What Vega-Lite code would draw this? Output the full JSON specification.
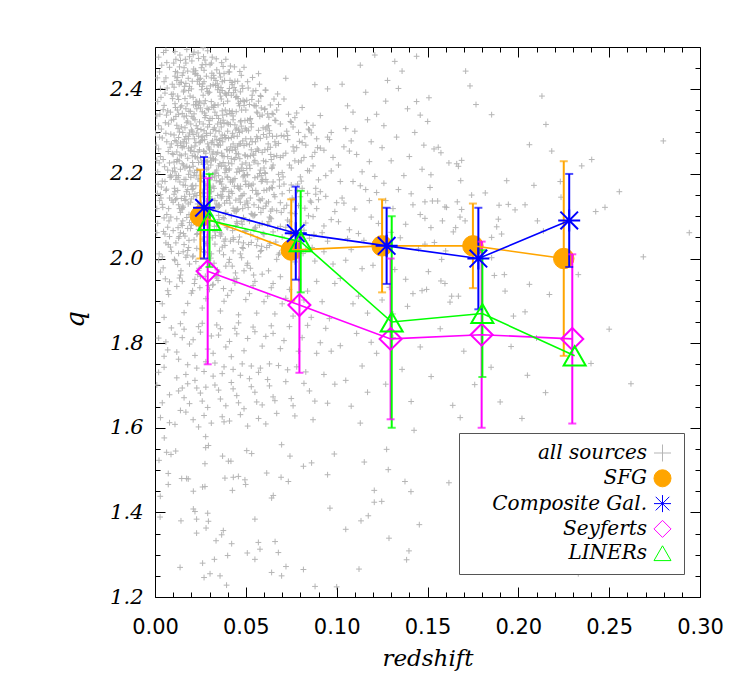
{
"$schema":"https://vega.github.io/schema/vega-lite/v6.json",
"width":545,"height":550,
"autosize":{"type":"none"},
"padding":{"left":155,"top":47,"right":47,"bottom":99},
"background":"white",
"config":{
 "view":{"stroke":"black","strokeWidth":1},
 "axis":{"grid":false,"domain":false,"tickColor":"black","tickWidth":1,"labelColor":"black","titleColor":"black","labelFlush":false,"labelOverlap":false,"labelBound":false},
 "legend":{"orient":"none","legendX":304,"legendY":386,"direction":"vertical","symbolOffset":183.5,"labelAlign":"right","labelOffset":-25.5,"labelFont":"DejaVu Serif","labelFontStyle":"italic","labelFontSize":20,"labelColor":"black","labelLimit":400,"symbolSize":290,"symbolStrokeWidth":1,"rowPadding":3.3,"padding":10,"strokeColor":"#555555","fillColor":"white"}
},
"datasets":{
"bins":[
{"type":"SFG","z":0.025,"q":2.10,"lo":2.00,"hi":2.21},
{"type":"SFG","z":0.075,"q":2.02,"lo":1.90,"hi":2.14},
{"type":"SFG","z":0.125,"q":2.03,"lo":1.92,"hi":2.14},
{"type":"SFG","z":0.175,"q":2.03,"lo":1.93,"hi":2.13},
{"type":"SFG","z":0.225,"q":2.00,"lo":1.77,"hi":2.23},
{"type":"Composite Gal.","z":0.027,"q":2.12,"lo":2.00,"hi":2.24},
{"type":"Composite Gal.","z":0.0775,"q":2.06,"lo":1.95,"hi":2.17},
{"type":"Composite Gal.","z":0.1275,"q":2.03,"lo":1.94,"hi":2.12},
{"type":"Composite Gal.","z":0.178,"q":2.00,"lo":1.88,"hi":2.12},
{"type":"Composite Gal.","z":0.228,"q":2.09,"lo":1.98,"hi":2.20},
{"type":"Seyferts","z":0.029,"q":1.97,"lo":1.75,"hi":2.19},
{"type":"Seyferts","z":0.0795,"q":1.89,"lo":1.73,"hi":2.05},
{"type":"Seyferts","z":0.1297,"q":1.81,"lo":1.62,"hi":2.00},
{"type":"Seyferts","z":0.1798,"q":1.82,"lo":1.60,"hi":2.04},
{"type":"Seyferts","z":0.2297,"q":1.81,"lo":1.61,"hi":2.01},
{"type":"LINERs","z":0.030,"q":2.09,"lo":1.98,"hi":2.20},
{"type":"LINERs","z":0.0802,"q":2.04,"lo":1.92,"hi":2.16},
{"type":"LINERs","z":0.1303,"q":1.85,"lo":1.60,"hi":2.10},
{"type":"LINERs","z":0.1802,"q":1.87,"lo":1.72,"hi":2.02},
{"type":"LINERs","z":0.231,"q":1.77,"lo":null,"hi":null}
],
"all":[
{"z":0.002,"q":2.314},{"z":0.004,"q":2.183},{"z":0.006,"q":2.427},{"z":0.008,"q":2.052},{"z":0.003,"q":1.968},{"z":0.009,"q":2.271},{"z":0.001,"q":2.118},{"z":0.005,"q":2.362},{"z":0.007,"q":2.209},{"z":0.004,"q":1.893},
{"z":0.008,"q":2.143},{"z":0.002,"q":2.476},{"z":0.006,"q":2.037},{"z":0.009,"q":2.388},{"z":0.003,"q":2.241},{"z":0.007,"q":1.924},{"z":0.005,"q":2.096},{"z":0.001,"q":2.337},{"z":0.008,"q":2.452},{"z":0.004,"q":2.285},
{"z":0.006,"q":2.161},{"z":0.002,"q":1.996},{"z":0.009,"q":2.017},{"z":0.007,"q":2.349},{"z":0.003,"q":2.402},{"z":0.005,"q":1.861},{"z":0.008,"q":2.226},{"z":0.006,"q":2.296},{"z":0.001,"q":2.061},{"z":0.004,"q":2.128},
{"z":0.009,"q":2.193},{"z":0.002,"q":2.259},{"z":0.007,"q":2.074},{"z":0.005,"q":2.418},{"z":0.003,"q":2.151},{"z":0.008,"q":1.945},{"z":0.006,"q":2.492},{"z":0.001,"q":2.232},{"z":0.009,"q":2.327},{"z":0.004,"q":2.004},
{"z":0.011,"q":2.205},{"z":0.013,"q":2.341},{"z":0.015,"q":2.078},{"z":0.017,"q":2.462},{"z":0.019,"q":2.152},{"z":0.012,"q":1.934},{"z":0.014,"q":2.273},{"z":0.016,"q":2.398},{"z":0.018,"q":2.019},{"z":0.010,"q":2.246},
{"z":0.013,"q":2.127},{"z":0.015,"q":2.433},{"z":0.017,"q":2.288},{"z":0.019,"q":1.987},{"z":0.011,"q":2.366},{"z":0.012,"q":2.094},{"z":0.014,"q":2.211},{"z":0.016,"q":1.872},{"z":0.018,"q":2.325},{"z":0.020,"q":2.171},
{"z":0.011,"q":2.489},{"z":0.013,"q":2.048},{"z":0.015,"q":2.262},{"z":0.017,"q":2.139},{"z":0.019,"q":2.407},{"z":0.012,"q":2.315},{"z":0.014,"q":1.961},{"z":0.016,"q":2.187},{"z":0.018,"q":2.443},{"z":0.010,"q":2.066},
{"z":0.013,"q":2.376},{"z":0.015,"q":2.224},{"z":0.017,"q":2.003},{"z":0.019,"q":2.297},{"z":0.011,"q":2.158},{"z":0.012,"q":2.421},{"z":0.014,"q":2.109},{"z":0.016,"q":2.335},{"z":0.018,"q":2.237},{"z":0.020,"q":1.918},
{"z":0.011,"q":2.279},{"z":0.013,"q":2.196},{"z":0.015,"q":1.946},{"z":0.017,"q":2.354},{"z":0.019,"q":2.085},{"z":0.012,"q":2.252},{"z":0.014,"q":2.468},{"z":0.016,"q":2.033},{"z":0.018,"q":2.163},{"z":0.010,"q":2.389},
{"z":0.013,"q":2.286},{"z":0.015,"q":2.117},{"z":0.017,"q":2.414},{"z":0.019,"q":2.215},{"z":0.011,"q":1.995},{"z":0.012,"q":2.142},{"z":0.014,"q":2.358},{"z":0.016,"q":2.265},{"z":0.018,"q":2.071},{"z":0.020,"q":2.304},
{"z":0.011,"q":2.431},{"z":0.013,"q":2.012},{"z":0.015,"q":2.343},{"z":0.017,"q":2.187},{"z":0.019,"q":2.477},{"z":0.012,"q":2.229},{"z":0.014,"q":2.061},{"z":0.016,"q":2.451},{"z":0.018,"q":1.894},{"z":0.010,"q":2.133},
{"z":0.021,"q":2.218},{"z":0.023,"q":2.354},{"z":0.025,"q":2.091},{"z":0.027,"q":2.445},{"z":0.029,"q":2.176},{"z":0.022,"q":1.951},{"z":0.024,"q":2.289},{"z":0.026,"q":2.407},{"z":0.028,"q":2.035},{"z":0.020,"q":2.263},
{"z":0.023,"q":2.149},{"z":0.025,"q":2.426},{"z":0.027,"q":2.302},{"z":0.029,"q":1.997},{"z":0.021,"q":2.381},{"z":0.022,"q":2.108},{"z":0.024,"q":2.227},{"z":0.026,"q":1.883},{"z":0.028,"q":2.338},{"z":0.030,"q":2.186},
{"z":0.021,"q":2.482},{"z":0.023,"q":2.057},{"z":0.025,"q":2.276},{"z":0.027,"q":2.155},{"z":0.029,"q":2.395},{"z":0.022,"q":2.328},{"z":0.024,"q":1.972},{"z":0.026,"q":2.197},{"z":0.028,"q":2.459},{"z":0.020,"q":2.079},
{"z":0.023,"q":2.371},{"z":0.025,"q":2.238},{"z":0.027,"q":2.016},{"z":0.029,"q":2.311},{"z":0.021,"q":2.165},{"z":0.022,"q":2.436},{"z":0.024,"q":2.121},{"z":0.026,"q":2.347},{"z":0.028,"q":2.249},{"z":0.030,"q":1.927},
{"z":0.021,"q":2.293},{"z":0.023,"q":2.209},{"z":0.025,"q":1.958},{"z":0.027,"q":2.366},{"z":0.029,"q":2.098},{"z":0.022,"q":2.266},{"z":0.024,"q":2.473},{"z":0.026,"q":2.046},{"z":0.028,"q":2.172},{"z":0.020,"q":2.401},
{"z":0.023,"q":2.297},{"z":0.025,"q":2.131},{"z":0.027,"q":2.418},{"z":0.029,"q":2.228},{"z":0.021,"q":2.006},{"z":0.022,"q":2.153},{"z":0.024,"q":2.362},{"z":0.026,"q":2.279},{"z":0.028,"q":2.084},{"z":0.030,"q":2.317},
{"z":0.021,"q":2.441},{"z":0.023,"q":2.024},{"z":0.025,"q":2.356},{"z":0.027,"q":2.194},{"z":0.029,"q":2.491},{"z":0.022,"q":2.241},{"z":0.024,"q":2.069},{"z":0.026,"q":2.458},{"z":0.028,"q":1.905},{"z":0.020,"q":2.141},
{"z":0.025,"q":2.183},{"z":0.027,"q":2.253},{"z":0.023,"q":2.115},{"z":0.029,"q":2.271},{"z":0.021,"q":2.332},
{"z":0.031,"q":2.231},{"z":0.033,"q":2.346},{"z":0.035,"q":2.102},{"z":0.037,"q":2.418},{"z":0.039,"q":2.168},{"z":0.032,"q":1.939},{"z":0.034,"q":2.281},{"z":0.036,"q":2.384},{"z":0.038,"q":2.041},{"z":0.030,"q":2.257},
{"z":0.033,"q":2.137},{"z":0.035,"q":2.405},{"z":0.037,"q":2.292},{"z":0.039,"q":1.982},{"z":0.031,"q":2.371},{"z":0.032,"q":2.117},{"z":0.034,"q":2.209},{"z":0.036,"q":1.876},{"z":0.038,"q":2.319},{"z":0.040,"q":2.192},
{"z":0.031,"q":2.462},{"z":0.033,"q":2.063},{"z":0.035,"q":2.268},{"z":0.037,"q":2.147},{"z":0.039,"q":2.389},{"z":0.032,"q":2.305},{"z":0.034,"q":1.954},{"z":0.036,"q":2.182},{"z":0.038,"q":2.437},{"z":0.030,"q":2.088},
{"z":0.033,"q":2.363},{"z":0.035,"q":2.219},{"z":0.037,"q":2.027},{"z":0.039,"q":2.286},{"z":0.031,"q":2.158},{"z":0.032,"q":2.411},{"z":0.034,"q":2.129},{"z":0.036,"q":2.322},{"z":0.038,"q":2.241},{"z":0.040,"q":1.913},
{"z":0.031,"q":2.274},{"z":0.033,"q":2.201},{"z":0.035,"q":1.968},{"z":0.037,"q":2.349},{"z":0.039,"q":2.109},{"z":0.032,"q":2.252},{"z":0.034,"q":2.446},{"z":0.036,"q":2.053},{"z":0.038,"q":2.164},{"z":0.030,"q":2.393},
{"z":0.033,"q":2.289},{"z":0.035,"q":2.126},{"z":0.037,"q":2.397},{"z":0.039,"q":2.212},{"z":0.031,"q":2.011},{"z":0.032,"q":2.171},{"z":0.034,"q":2.338},{"z":0.036,"q":2.268},{"z":0.038,"q":2.094},{"z":0.040,"q":2.301},
{"z":0.031,"q":2.427},{"z":0.033,"q":2.034},{"z":0.035,"q":2.331},{"z":0.037,"q":2.188},{"z":0.039,"q":2.471},{"z":0.032,"q":2.235},{"z":0.034,"q":2.077},{"z":0.036,"q":2.429},{"z":0.038,"q":1.899},{"z":0.030,"q":2.146},
{"z":0.035,"q":2.196},{"z":0.037,"q":2.243},
{"z":0.041,"q":2.212},{"z":0.043,"q":2.328},{"z":0.045,"q":2.087},{"z":0.047,"q":2.394},{"z":0.049,"q":2.153},{"z":0.042,"q":1.924},{"z":0.044,"q":2.262},{"z":0.046,"q":2.367},{"z":0.048,"q":2.026},{"z":0.040,"q":2.241},
{"z":0.043,"q":2.119},{"z":0.045,"q":2.383},{"z":0.047,"q":2.271},{"z":0.049,"q":1.971},{"z":0.041,"q":2.349},{"z":0.042,"q":2.101},{"z":0.044,"q":2.189},{"z":0.046,"q":1.867},{"z":0.048,"q":2.301},{"z":0.050,"q":2.175},
{"z":0.041,"q":2.441},{"z":0.043,"q":2.049},{"z":0.045,"q":2.248},{"z":0.047,"q":2.133},{"z":0.049,"q":2.362},{"z":0.042,"q":2.286},{"z":0.044,"q":1.942},{"z":0.046,"q":2.166},{"z":0.048,"q":2.408},{"z":0.040,"q":2.073},
{"z":0.043,"q":2.337},{"z":0.045,"q":2.204},{"z":0.047,"q":2.011},{"z":0.049,"q":2.267},{"z":0.041,"q":2.143},{"z":0.042,"q":2.386},{"z":0.044,"q":2.112},{"z":0.046,"q":2.304},{"z":0.048,"q":2.223},{"z":0.050,"q":1.903},
{"z":0.041,"q":2.255},{"z":0.043,"q":2.186},{"z":0.045,"q":1.953},{"z":0.047,"q":2.323},{"z":0.049,"q":2.092},{"z":0.042,"q":2.236},{"z":0.044,"q":2.419},{"z":0.046,"q":2.039},{"z":0.048,"q":2.149},{"z":0.040,"q":2.372},
{"z":0.043,"q":2.271},{"z":0.045,"q":2.114},{"z":0.047,"q":2.371},{"z":0.049,"q":2.196},{"z":0.041,"q":1.998},{"z":0.042,"q":2.159},{"z":0.044,"q":2.316},{"z":0.046,"q":2.247},{"z":0.048,"q":2.081},{"z":0.050,"q":2.283},
{"z":0.041,"q":2.402},{"z":0.043,"q":2.018},{"z":0.045,"q":2.308},{"z":0.047,"q":2.171},{"z":0.049,"q":2.452},
{"z":0.051,"q":2.198},{"z":0.053,"q":2.311},{"z":0.055,"q":2.072},{"z":0.057,"q":2.372},{"z":0.059,"q":2.141},{"z":0.052,"q":1.917},{"z":0.054,"q":2.247},{"z":0.056,"q":2.346},{"z":0.058,"q":2.017},{"z":0.050,"q":2.226},
{"z":0.053,"q":2.106},{"z":0.055,"q":2.361},{"z":0.057,"q":2.256},{"z":0.059,"q":1.963},{"z":0.051,"q":2.327},{"z":0.052,"q":2.088},{"z":0.054,"q":2.176},{"z":0.056,"q":1.871},{"z":0.058,"q":2.284},{"z":0.060,"q":2.161},
{"z":0.051,"q":2.418},{"z":0.053,"q":2.038},{"z":0.055,"q":2.232},{"z":0.057,"q":2.121},{"z":0.059,"q":2.339},{"z":0.052,"q":2.269},{"z":0.054,"q":1.936},{"z":0.056,"q":2.152},{"z":0.058,"q":2.385},{"z":0.050,"q":2.064},
{"z":0.053,"q":2.319},{"z":0.055,"q":2.191},{"z":0.057,"q":2.004},{"z":0.059,"q":2.251},{"z":0.051,"q":2.131},{"z":0.052,"q":2.364},{"z":0.054,"q":2.101},{"z":0.056,"q":2.288},{"z":0.058,"q":2.209},{"z":0.060,"q":1.898},
{"z":0.051,"q":2.241},{"z":0.053,"q":2.173},{"z":0.055,"q":1.946},{"z":0.057,"q":2.303},{"z":0.059,"q":2.083},{"z":0.052,"q":2.221},{"z":0.054,"q":2.396},{"z":0.056,"q":2.031},{"z":0.058,"q":2.137},{"z":0.050,"q":2.351},
{"z":0.053,"q":2.257},{"z":0.055,"q":2.104},{"z":0.057,"q":2.437},{"z":0.059,"q":2.183},{"z":0.051,"q":1.989},
{"z":0.061,"q":2.187},{"z":0.063,"q":2.296},{"z":0.065,"q":2.063},{"z":0.067,"q":2.351},{"z":0.069,"q":2.132},{"z":0.062,"q":1.911},{"z":0.064,"q":2.234},{"z":0.066,"q":2.327},{"z":0.068,"q":2.009},{"z":0.060,"q":2.214},
{"z":0.063,"q":2.098},{"z":0.065,"q":2.341},{"z":0.067,"q":2.243},{"z":0.069,"q":1.957},{"z":0.061,"q":2.306},{"z":0.062,"q":2.081},{"z":0.064,"q":2.168},{"z":0.066,"q":1.869},{"z":0.068,"q":2.272},{"z":0.070,"q":2.153},
{"z":0.061,"q":2.398},{"z":0.063,"q":2.031},{"z":0.065,"q":2.221},{"z":0.067,"q":2.113},{"z":0.069,"q":2.318},{"z":0.062,"q":2.258},{"z":0.064,"q":1.931},{"z":0.066,"q":2.146},{"z":0.068,"q":2.364},{"z":0.060,"q":2.057},
{"z":0.063,"q":2.302},{"z":0.065,"q":2.181},{"z":0.067,"q":1.998},{"z":0.069,"q":2.239},{"z":0.061,"q":2.124},{"z":0.062,"q":2.342},{"z":0.064,"q":2.094},{"z":0.066,"q":2.276},{"z":0.068,"q":2.199},{"z":0.070,"q":1.893},
{"z":0.061,"q":2.229},{"z":0.063,"q":2.165},{"z":0.065,"q":1.941},{"z":0.067,"q":2.289},{"z":0.069,"q":2.076},
{"z":0.071,"q":2.176},{"z":0.073,"q":2.281},{"z":0.075,"q":2.056},{"z":0.077,"q":2.333},{"z":0.079,"q":2.125},{"z":0.072,"q":1.906},{"z":0.074,"q":2.221},{"z":0.076,"q":2.311},{"z":0.078,"q":2.001},{"z":0.070,"q":2.203},
{"z":0.073,"q":2.091},{"z":0.075,"q":2.322},{"z":0.077,"q":2.231},{"z":0.079,"q":1.951},{"z":0.071,"q":2.289},{"z":0.072,"q":2.074},{"z":0.074,"q":2.161},{"z":0.076,"q":1.864},{"z":0.078,"q":2.262},{"z":0.080,"q":2.146},
{"z":0.071,"q":2.377},{"z":0.073,"q":2.026},{"z":0.075,"q":2.214},{"z":0.077,"q":2.106},{"z":0.079,"q":2.298},{"z":0.072,"q":2.249},{"z":0.074,"q":1.927},{"z":0.076,"q":2.139},{"z":0.078,"q":2.344},{"z":0.070,"q":2.051},
{"z":0.073,"q":2.291},{"z":0.075,"q":2.174},{"z":0.077,"q":1.992},{"z":0.079,"q":2.228},{"z":0.071,"q":2.118},{"z":0.072,"q":2.426},{"z":0.074,"q":2.087},{"z":0.076,"q":2.264},
{"z":0.081,"q":2.166},{"z":0.083,"q":2.268},{"z":0.085,"q":2.048},{"z":0.087,"q":2.315},{"z":0.089,"q":2.118},{"z":0.082,"q":1.902},{"z":0.084,"q":2.208},{"z":0.086,"q":2.297},{"z":0.088,"q":1.994},{"z":0.080,"q":2.193},
{"z":0.083,"q":2.084},{"z":0.085,"q":2.304},{"z":0.087,"q":2.219},{"z":0.089,"q":1.946},{"z":0.081,"q":2.274},{"z":0.082,"q":2.067},{"z":0.084,"q":2.154},{"z":0.086,"q":1.861},{"z":0.088,"q":2.251},{"z":0.090,"q":2.139},
{"z":0.081,"q":2.357},{"z":0.083,"q":2.021},{"z":0.085,"q":2.207},{"z":0.087,"q":2.099},{"z":0.089,"q":2.283},{"z":0.082,"q":2.239},{"z":0.084,"q":1.923},{"z":0.086,"q":2.133},{"z":0.088,"q":2.411},{"z":0.080,"q":2.045},
{"z":0.091,"q":2.158},{"z":0.093,"q":2.256},{"z":0.095,"q":2.041},{"z":0.097,"q":2.298},{"z":0.099,"q":2.111},{"z":0.092,"q":1.898},{"z":0.094,"q":2.196},{"z":0.096,"q":2.281},{"z":0.098,"q":1.987},{"z":0.090,"q":2.186},
{"z":0.093,"q":2.077},{"z":0.095,"q":2.287},{"z":0.097,"q":2.207},{"z":0.099,"q":1.941},{"z":0.091,"q":2.261},{"z":0.092,"q":2.061},{"z":0.094,"q":2.147},{"z":0.096,"q":1.858},{"z":0.098,"q":2.239},{"z":0.100,"q":2.132},
{"z":0.091,"q":2.338},{"z":0.093,"q":2.016},{"z":0.095,"q":2.401},{"z":0.097,"q":2.092},
{"z":0.101,"q":2.221},{"z":0.103,"q":2.143},{"z":0.105,"q":2.307},{"z":0.107,"q":2.068},{"z":0.109,"q":2.182},{"z":0.102,"q":1.953},{"z":0.104,"q":2.264},{"z":0.106,"q":2.361},{"z":0.108,"q":2.021},{"z":0.110,"q":2.117},
{"z":0.111,"q":2.246},{"z":0.113,"q":2.172},{"z":0.115,"q":2.043},{"z":0.117,"q":2.328},{"z":0.119,"q":2.098},{"z":0.112,"q":1.911},{"z":0.114,"q":2.205},{"z":0.116,"q":2.393},{"z":0.118,"q":2.137},{"z":0.120,"q":1.984},
{"z":0.101,"q":2.087},{"z":0.103,"q":2.412},{"z":0.105,"q":1.996},{"z":0.107,"q":2.254},{"z":0.109,"q":2.346},{"z":0.104,"q":2.131},{"z":0.108,"q":2.278},{"z":0.112,"q":2.059},{"z":0.116,"q":2.163},{"z":0.119,"q":2.276},
{"z":0.121,"q":2.194},{"z":0.123,"q":2.083},{"z":0.125,"q":2.262},{"z":0.127,"q":2.137},{"z":0.129,"q":1.932},{"z":0.122,"q":2.341},{"z":0.124,"q":2.018},{"z":0.126,"q":2.178},{"z":0.128,"q":2.421},{"z":0.130,"q":2.231},
{"z":0.131,"q":2.118},{"z":0.133,"q":2.287},{"z":0.135,"q":2.049},{"z":0.137,"q":2.196},{"z":0.139,"q":2.354},{"z":0.132,"q":1.974},{"z":0.134,"q":2.163},{"z":0.136,"q":2.443},{"z":0.138,"q":2.081},{"z":0.140,"q":2.241},
{"z":0.141,"q":2.153},{"z":0.143,"q":2.298},{"z":0.145,"q":2.023},{"z":0.147,"q":2.211},{"z":0.142,"q":1.917},{"z":0.144,"q":2.371},{"z":0.146,"q":2.104},{"z":0.148,"q":2.268},{"z":0.102,"q":2.182},{"z":0.106,"q":2.047},
{"z":0.110,"q":2.301},{"z":0.114,"q":1.976},{"z":0.118,"q":2.229},{"z":0.122,"q":2.156},{"z":0.126,"q":2.314},{"z":0.130,"q":2.062},{"z":0.134,"q":2.402},{"z":0.138,"q":1.951},{"z":0.142,"q":2.127},{"z":0.146,"q":2.339},
{"z":0.113,"q":2.457},{"z":0.121,"q":2.481},{"z":0.127,"q":2.372},{"z":0.132,"q":2.466},{"z":0.144,"q":2.478},{"z":0.109,"q":1.893},{"z":0.117,"q":1.871},{"z":0.125,"q":1.902},{"z":0.131,"q":1.869},{"z":0.139,"q":1.887},{"z":0.147,"q":1.924},
{"z":0.171,"q":2.443},{"z":0.1734,"q":2.408},{"z":0.1508,"q":2.380},{"z":0.1767,"q":2.364},{"z":0.1853,"q":2.340},{"z":0.1501,"q":2.324},{"z":0.213,"q":2.384},{"z":0.2152,"q":2.317},{"z":0.2061,"q":2.269},{"z":0.2184,"q":2.254},
{"z":0.2798,"q":2.278},{"z":0.1536,"q":2.259},{"z":0.1559,"q":2.263},{"z":0.1574,"q":2.250},{"z":0.1618,"q":2.226},{"z":0.1661,"q":2.224},{"z":0.167,"q":2.218},{"z":0.1688,"q":2.232},{"z":0.1519,"q":2.198},{"z":0.1514,"q":2.168},
{"z":0.1683,"q":2.184},{"z":0.1818,"q":2.155},{"z":0.1936,"q":2.184},{"z":0.2086,"q":2.173},{"z":0.2231,"q":2.182},{"z":0.2235,"q":2.145},{"z":0.2349,"q":2.219},{"z":0.2404,"q":2.234},{"z":0.2556,"q":2.158},{"z":0.2477,"q":2.121},
{"z":0.2426,"q":2.111},{"z":0.1486,"q":2.134},{"z":0.1527,"q":2.136},{"z":0.1556,"q":2.136},{"z":0.1596,"q":2.122},{"z":0.1664,"q":2.134},{"z":0.1605,"q":2.121},{"z":0.1688,"q":2.116},{"z":0.1743,"q":2.150},{"z":0.1894,"q":2.126},
{"z":0.1945,"q":2.128},{"z":0.1982,"q":2.115},{"z":0.2037,"q":2.127},{"z":0.1486,"q":2.095},{"z":0.1582,"q":2.089},{"z":0.1519,"q":2.073},{"z":0.1655,"q":2.073},{"z":0.1642,"q":2.063},{"z":0.1679,"q":2.098},{"z":0.1707,"q":2.089},
{"z":0.1881,"q":2.075},{"z":0.189,"q":2.093},{"z":0.2105,"q":2.089},{"z":0.2138,"q":2.065},{"z":0.1853,"q":2.050},{"z":0.1908,"q":2.058},{"z":0.1486,"q":2.034},{"z":0.1538,"q":2.038},{"z":0.160,"q":2.018},{"z":0.1578,"q":1.998},
{"z":0.1505,"q":1.969},{"z":0.1574,"q":1.947},{"z":0.1596,"q":1.941},{"z":0.1853,"q":2.002},{"z":0.1868,"q":1.960},{"z":0.1923,"q":1.962},{"z":0.1927,"q":1.923},{"z":0.2061,"q":1.939},{"z":0.2171,"q":1.915},{"z":0.233,"q":1.962},
{"z":0.2688,"q":2.004},{"z":0.2941,"q":2.061},{"z":0.1633,"q":1.911},{"z":0.167,"q":1.911},{"z":0.1624,"q":1.897},{"z":0.1973,"q":1.864},{"z":0.2037,"q":1.874},{"z":0.1495,"q":1.927},
{"z":0.002,"q":1.812},{"z":0.005,"q":1.743},{"z":0.008,"q":1.678},{"z":0.003,"q":1.624},{"z":0.007,"q":1.784},{"z":0.001,"q":1.701},{"z":0.009,"q":1.836},{"z":0.004,"q":1.659},{"z":0.006,"q":1.803},{"z":0.002,"q":1.731},{"z":0.008,"q":1.612},{"z":0.005,"q":1.769},
{"z":0.011,"q":1.821},{"z":0.013,"q":1.762},{"z":0.015,"q":1.694},{"z":0.017,"q":1.637},{"z":0.019,"q":1.798},{"z":0.012,"q":1.718},{"z":0.014,"q":1.846},{"z":0.016,"q":1.671},{"z":0.018,"q":1.749},{"z":0.011,"q":1.608},{"z":0.013,"q":1.687},{"z":0.015,"q":1.813},{"z":0.017,"q":1.726},{"z":0.019,"q":1.657},{"z":0.012,"q":1.779},{"z":0.016,"q":1.833},{"z":0.018,"q":1.704},{"z":0.014,"q":1.641},
{"z":0.021,"q":1.808},{"z":0.023,"q":1.741},{"z":0.025,"q":1.682},{"z":0.027,"q":1.629},{"z":0.029,"q":1.786},{"z":0.022,"q":1.712},{"z":0.024,"q":1.839},{"z":0.026,"q":1.663},{"z":0.028,"q":1.756},{"z":0.021,"q":1.619},{"z":0.023,"q":1.694},{"z":0.025,"q":1.826},{"z":0.027,"q":1.733},{"z":0.029,"q":1.648},{"z":0.022,"q":1.771},{"z":0.026,"q":1.847},{"z":0.028,"q":1.696},{"z":0.024,"q":1.602},
{"z":0.031,"q":1.817},{"z":0.033,"q":1.753},{"z":0.035,"q":1.689},{"z":0.037,"q":1.626},{"z":0.039,"q":1.791},{"z":0.032,"q":1.722},{"z":0.034,"q":1.843},{"z":0.036,"q":1.668},{"z":0.038,"q":1.744},{"z":0.031,"q":1.611},{"z":0.033,"q":1.701},{"z":0.035,"q":1.819},{"z":0.037,"q":1.728},{"z":0.039,"q":1.652},{"z":0.032,"q":1.776},{"z":0.036,"q":1.834},{"z":0.038,"q":1.614},
{"z":0.041,"q":1.804},{"z":0.043,"q":1.738},{"z":0.045,"q":1.676},{"z":0.047,"q":1.631},{"z":0.049,"q":1.782},{"z":0.042,"q":1.707},{"z":0.044,"q":1.835},{"z":0.046,"q":1.659},{"z":0.048,"q":1.751},{"z":0.041,"q":1.616},{"z":0.043,"q":1.692},{"z":0.045,"q":1.822},{"z":0.047,"q":1.724},{"z":0.049,"q":1.645},{"z":0.042,"q":1.768},{"z":0.046,"q":1.848},
{"z":0.051,"q":1.811},{"z":0.053,"q":1.746},{"z":0.055,"q":1.684},{"z":0.057,"q":1.622},{"z":0.059,"q":1.793},{"z":0.052,"q":1.716},{"z":0.054,"q":1.838},{"z":0.056,"q":1.661},{"z":0.058,"q":1.741},{"z":0.051,"q":1.604},{"z":0.053,"q":1.697},{"z":0.055,"q":1.827},{"z":0.057,"q":1.731},{"z":0.059,"q":1.654},
{"z":0.061,"q":1.816},{"z":0.063,"q":1.751},{"z":0.065,"q":1.673},{"z":0.067,"q":1.634},{"z":0.069,"q":1.787},{"z":0.062,"q":1.714},{"z":0.064,"q":1.841},{"z":0.066,"q":1.664},{"z":0.068,"q":1.747},{"z":0.061,"q":1.609},{"z":0.063,"q":1.699},{"z":0.065,"q":1.823},
{"z":0.071,"q":1.806},{"z":0.073,"q":1.737},{"z":0.075,"q":1.669},{"z":0.077,"q":1.628},{"z":0.079,"q":1.781},{"z":0.072,"q":1.709},{"z":0.074,"q":1.839},{"z":0.076,"q":1.652},{"z":0.078,"q":1.744},
{"z":0.081,"q":1.813},{"z":0.083,"q":1.732},{"z":0.085,"q":1.687},{"z":0.087,"q":1.619},{"z":0.089,"q":1.776},{"z":0.082,"q":1.705},{"z":0.084,"q":1.842},{"z":0.088,"q":1.663},
{"z":0.091,"q":1.801},{"z":0.093,"q":1.726},{"z":0.095,"q":1.658},{"z":0.097,"q":1.781},{"z":0.099,"q":1.703},{"z":0.094,"q":1.835},
{"z":0.102,"q":1.794},{"z":0.105,"q":1.712},{"z":0.108,"q":1.651},{"z":0.111,"q":1.823},{"z":0.114,"q":1.746},{"z":0.117,"q":1.684},{"z":0.119,"q":1.802},{"z":0.113,"q":1.611},
{"z":0.122,"q":1.776},{"z":0.127,"q":1.703},{"z":0.131,"q":1.813},{"z":0.136,"q":1.738},{"z":0.141,"q":1.662},{"z":0.146,"q":1.791},{"z":0.152,"q":1.721},{"z":0.157,"q":1.834},
{"z":0.0051,"q":1.576},{"z":0.0064,"q":1.542},{"z":0.0088,"q":1.537},{"z":0.0114,"q":1.545},{"z":0.0022,"q":1.523},{"z":0.0073,"q":1.492},{"z":0.0073,"q":1.466},{"z":0.0147,"q":1.480},{"z":0.0174,"q":1.480},{"z":0.0183,"q":1.479},
{"z":0.0211,"q":1.450},{"z":0.0262,"q":1.460},{"z":0.0275,"q":1.461},{"z":0.0275,"q":1.515},{"z":0.0279,"q":1.553},{"z":0.0294,"q":1.558},{"z":0.0279,"q":1.579},{"z":0.0372,"q":1.533},{"z":0.0404,"q":1.521},{"z":0.0418,"q":1.521},
{"z":0.0385,"q":1.481},{"z":0.0431,"q":1.483},{"z":0.0459,"q":1.485},{"z":0.0495,"q":1.477},{"z":0.0499,"q":1.466},{"z":0.0426,"q":1.452},{"z":0.0505,"q":1.546},{"z":0.0532,"q":1.539},{"z":0.0615,"q":1.493},{"z":0.0642,"q":1.434},
{"z":0.0651,"q":1.440},{"z":0.0694,"q":1.483},{"z":0.0734,"q":1.473},{"z":0.0743,"q":1.533},{"z":0.0697,"q":1.560},{"z":0.0817,"q":1.509},{"z":0.0862,"q":1.517},{"z":0.095,"q":1.489},{"z":0.0963,"q":1.410},{"z":0.0987,"q":1.538},
{"z":0.1152,"q":1.519},{"z":0.1207,"q":1.452},{"z":0.1248,"q":1.426},{"z":0.1207,"q":1.424},{"z":0.1174,"q":1.392},{"z":0.1134,"q":1.380},{"z":0.105,"q":1.360},{"z":0.1284,"q":1.501},{"z":0.1275,"q":1.549},{"z":0.1376,"q":1.473},
{"z":0.1409,"q":1.449},{"z":0.1455,"q":1.371},{"z":0.1398,"q":1.309},{"z":0.1385,"q":1.288},{"z":0.1288,"q":1.339},{"z":0.1123,"q":1.266},{"z":0.100,"q":1.224},{"z":0.0881,"q":1.225},{"z":0.0817,"q":1.265},{"z":0.0721,"q":1.272},
{"z":0.0697,"q":1.250},{"z":0.0642,"q":1.258},{"z":0.055,"q":1.289},{"z":0.0578,"q":1.313},{"z":0.0569,"q":1.329},{"z":0.0661,"q":1.331},{"z":0.0679,"q":1.305},{"z":0.055,"q":1.384},{"z":0.0508,"q":1.304},{"z":0.0422,"q":1.326},
{"z":0.040,"q":1.298},{"z":0.0367,"q":1.347},{"z":0.0376,"q":1.357},{"z":0.0336,"q":1.333},{"z":0.0358,"q":1.250},{"z":0.0303,"q":1.255},{"z":0.027,"q":1.246},{"z":0.0327,"q":1.289},{"z":0.0394,"q":1.228},{"z":0.0294,"q":1.379},
{"z":0.029,"q":1.398},{"z":0.0281,"q":1.363},{"z":0.0229,"q":1.351},{"z":0.0211,"q":1.408},{"z":0.022,"q":1.402},{"z":0.0229,"q":1.384},{"z":0.0143,"q":1.380},{"z":0.0028,"q":1.389},{"z":0.0138,"q":1.270},{"z":0.0262,"q":1.280},
{"z":0.1618,"q":1.470},{"z":0.1426,"q":1.594},{"z":0.1639,"q":1.653},{"z":0.0029,"q":1.438},
{"z":0.170,"q":1.781},{"z":0.176,"q":1.702},{"z":0.185,"q":1.743},{"z":0.190,"q":1.661},{"z":0.196,"q":1.792},{"z":0.205,"q":1.724},{"z":0.210,"q":1.812},{"z":0.168,"q":1.624},{"z":0.215,"q":1.683},{"z":0.240,"q":1.752},
{"z":0.220,"q":1.571},{"z":0.250,"q":1.833},{"z":0.183,"q":1.553},{"z":0.202,"q":1.622},{"z":0.262,"q":1.704},{"z":0.233,"q":1.255},
{"z":0.0015,"q":2.205},{"z":0.0045,"q":2.352},{"z":0.0075,"q":2.118},{"z":0.0025,"q":2.441},{"z":0.0065,"q":2.276},{"z":0.0085,"q":2.027},{"z":0.0035,"q":2.169},{"z":0.0055,"q":2.391},{"z":0.0095,"q":2.248},{"z":0.0015,"q":2.083},
{"z":0.0045,"q":1.978},{"z":0.0075,"q":2.318},{"z":0.0025,"q":2.137},{"z":0.0065,"q":2.463},{"z":0.0085,"q":2.197},{"z":0.0035,"q":2.306},{"z":0.0055,"q":2.058},{"z":0.0095,"q":2.412},{"z":0.0015,"q":2.371},{"z":0.0045,"q":2.234},
{"z":0.0075,"q":1.915},{"z":0.0025,"q":2.287},{"z":0.0065,"q":2.104},{"z":0.0085,"q":2.346},{"z":0.0055,"q":2.182},
{"z":0.0105,"q":2.228},{"z":0.0125,"q":2.384},{"z":0.0145,"q":2.142},{"z":0.0165,"q":2.309},{"z":0.0185,"q":2.261},{"z":0.0115,"q":2.037},{"z":0.0135,"q":2.453},{"z":0.0155,"q":2.174},{"z":0.0175,"q":2.097},{"z":0.0195,"q":2.348},
{"z":0.0105,"q":2.292},{"z":0.0125,"q":2.161},{"z":0.0145,"q":2.417},{"z":0.0165,"q":2.053},{"z":0.0185,"q":2.199},{"z":0.0115,"q":2.336},{"z":0.0135,"q":2.118},{"z":0.0155,"q":2.276},{"z":0.0175,"q":2.494},{"z":0.0195,"q":2.133},
{"z":0.0105,"q":2.405},{"z":0.0125,"q":1.986},{"z":0.0145,"q":2.243},{"z":0.0165,"q":2.378},{"z":0.0185,"q":2.026},{"z":0.0115,"q":2.187},{"z":0.0135,"q":2.299},{"z":0.0155,"q":2.439},{"z":0.0175,"q":2.218},{"z":0.0195,"q":2.071},
{"z":0.0105,"q":2.152},{"z":0.0125,"q":2.267},{"z":0.0145,"q":2.082},{"z":0.0165,"q":2.214},{"z":0.0185,"q":2.397},{"z":0.0115,"q":2.471},{"z":0.0135,"q":1.954},{"z":0.0155,"q":2.121},{"z":0.0175,"q":2.321},{"z":0.0195,"q":2.256},
{"z":0.0125,"q":2.428},{"z":0.0145,"q":2.311},{"z":0.0165,"q":2.137},{"z":0.0185,"q":2.283},{"z":0.0155,"q":2.016},
{"z":0.0205,"q":2.243},{"z":0.0225,"q":2.371},{"z":0.0245,"q":2.156},{"z":0.0265,"q":2.318},{"z":0.0285,"q":2.229},{"z":0.0215,"q":2.044},{"z":0.0235,"q":2.433},{"z":0.0255,"q":2.189},{"z":0.0275,"q":2.106},{"z":0.0295,"q":2.352},
{"z":0.0205,"q":2.301},{"z":0.0225,"q":2.172},{"z":0.0245,"q":2.412},{"z":0.0265,"q":2.063},{"z":0.0285,"q":2.211},{"z":0.0215,"q":2.342},{"z":0.0235,"q":2.129},{"z":0.0255,"q":2.287},{"z":0.0275,"q":2.469},{"z":0.0295,"q":2.141},
{"z":0.0205,"q":2.419},{"z":0.0225,"q":1.993},{"z":0.0245,"q":2.257},{"z":0.0265,"q":2.386},{"z":0.0285,"q":2.036},{"z":0.0215,"q":2.196},{"z":0.0235,"q":2.307},{"z":0.0255,"q":2.451},{"z":0.0275,"q":2.232},{"z":0.0295,"q":2.079},
{"z":0.0205,"q":2.163},{"z":0.0225,"q":2.274},{"z":0.0245,"q":2.091},{"z":0.0265,"q":2.223},{"z":0.0285,"q":2.402},{"z":0.0215,"q":2.488},{"z":0.0235,"q":1.962},{"z":0.0255,"q":2.127},{"z":0.0275,"q":2.333},{"z":0.0295,"q":2.264},
{"z":0.0225,"q":2.437},{"z":0.0245,"q":2.323},{"z":0.0265,"q":2.146},{"z":0.0285,"q":2.291},{"z":0.0255,"q":2.022},{"z":0.0215,"q":2.253},{"z":0.0235,"q":2.208},{"z":0.0265,"q":2.498},{"z":0.0285,"q":2.119},{"z":0.0245,"q":2.372},
{"z":0.0305,"q":2.238},{"z":0.0325,"q":2.362},{"z":0.0345,"q":2.149},{"z":0.0365,"q":2.311},{"z":0.0385,"q":2.219},{"z":0.0315,"q":2.049},{"z":0.0335,"q":2.421},{"z":0.0355,"q":2.181},{"z":0.0375,"q":2.097},{"z":0.0395,"q":2.341},
{"z":0.0305,"q":2.296},{"z":0.0325,"q":2.166},{"z":0.0345,"q":2.399},{"z":0.0365,"q":2.058},{"z":0.0385,"q":2.203},{"z":0.0315,"q":2.331},{"z":0.0335,"q":2.122},{"z":0.0355,"q":2.279},{"z":0.0375,"q":2.454},{"z":0.0395,"q":2.137},
{"z":0.0305,"q":2.408},{"z":0.0325,"q":1.989},{"z":0.0345,"q":2.251},{"z":0.0365,"q":2.377},{"z":0.0385,"q":2.031},{"z":0.0315,"q":2.192},{"z":0.0335,"q":2.302},{"z":0.0355,"q":2.438},{"z":0.0375,"q":2.227},{"z":0.0395,"q":2.074},
{"z":0.0305,"q":2.158},{"z":0.0325,"q":2.269},{"z":0.0345,"q":2.086},{"z":0.0365,"q":2.218},{"z":0.0385,"q":2.391},{"z":0.0315,"q":2.476},{"z":0.0335,"q":1.958},{"z":0.0355,"q":2.124},{"z":0.0375,"q":2.327},{"z":0.0395,"q":2.258},
{"z":0.0325,"q":2.426},{"z":0.0345,"q":2.318},{"z":0.0365,"q":2.143},{"z":0.0385,"q":2.286},{"z":0.0355,"q":2.018},{"z":0.0315,"q":2.247},{"z":0.0335,"q":2.204},{"z":0.0375,"q":2.166},
{"z":0.0405,"q":2.226},{"z":0.0425,"q":2.348},{"z":0.0445,"q":2.138},{"z":0.0465,"q":2.298},{"z":0.0485,"q":2.208},{"z":0.0415,"q":2.041},{"z":0.0435,"q":2.404},{"z":0.0455,"q":2.171},{"z":0.0475,"q":2.088},{"z":0.0495,"q":2.326},
{"z":0.0405,"q":2.284},{"z":0.0425,"q":2.154},{"z":0.0445,"q":2.381},{"z":0.0465,"q":2.051},{"z":0.0485,"q":2.193},{"z":0.0415,"q":2.317},{"z":0.0435,"q":2.113},{"z":0.0455,"q":2.266},{"z":0.0475,"q":2.433},{"z":0.0495,"q":2.127},
{"z":0.0405,"q":2.392},{"z":0.0425,"q":1.982},{"z":0.0445,"q":2.239},{"z":0.0465,"q":2.361},{"z":0.0485,"q":2.024},{"z":0.0415,"q":2.181},{"z":0.0435,"q":2.289},{"z":0.0455,"q":2.419},{"z":0.0475,"q":2.214},{"z":0.0495,"q":2.066},
{"z":0.0405,"q":2.147},{"z":0.0425,"q":2.256},{"z":0.0445,"q":2.078},{"z":0.0465,"q":2.206},{"z":0.0485,"q":2.374},{"z":0.0415,"q":2.455},{"z":0.0435,"q":1.951},{"z":0.0455,"q":2.116},{"z":0.0475,"q":2.313},{"z":0.0495,"q":2.245},
{"z":0.0425,"q":2.411},{"z":0.0445,"q":2.304},
{"z":0.0505,"q":2.213},{"z":0.0525,"q":2.331},{"z":0.0545,"q":2.127},{"z":0.0565,"q":2.284},{"z":0.0585,"q":2.196},{"z":0.0515,"q":2.033},{"z":0.0535,"q":2.386},{"z":0.0555,"q":2.161},{"z":0.0575,"q":2.079},{"z":0.0595,"q":2.309},
{"z":0.0505,"q":2.271},{"z":0.0525,"q":2.143},{"z":0.0545,"q":2.362},{"z":0.0565,"q":2.046},{"z":0.0585,"q":2.182},{"z":0.0515,"q":2.302},{"z":0.0535,"q":2.104},{"z":0.0555,"q":2.253},{"z":0.0575,"q":2.412},{"z":0.0595,"q":2.118},
{"z":0.0505,"q":2.374},{"z":0.0525,"q":1.977},{"z":0.0545,"q":2.228},{"z":0.0565,"q":2.344},{"z":0.0585,"q":2.019},{"z":0.0515,"q":2.171},{"z":0.0535,"q":2.276},{"z":0.0555,"q":2.397},{"z":0.0575,"q":2.201},{"z":0.0595,"q":2.059},
{"z":0.0505,"q":2.136},{"z":0.0525,"q":2.243},{"z":0.0545,"q":2.069},{"z":0.0565,"q":2.193},{"z":0.0585,"q":2.356},
{"z":0.0605,"q":2.203},{"z":0.0625,"q":2.314},{"z":0.0645,"q":2.117},{"z":0.0665,"q":2.268},{"z":0.0685,"q":2.186},{"z":0.0615,"q":2.026},{"z":0.0635,"q":2.363},{"z":0.0655,"q":2.151},{"z":0.0675,"q":2.071},{"z":0.0695,"q":2.291},
{"z":0.0605,"q":2.257},{"z":0.0625,"q":2.134},{"z":0.0645,"q":2.343},{"z":0.0665,"q":2.039},{"z":0.0685,"q":2.171},{"z":0.0615,"q":2.287},{"z":0.0635,"q":2.096},{"z":0.0655,"q":2.241},{"z":0.0675,"q":2.389},{"z":0.0695,"q":2.109},
{"z":0.0605,"q":2.354},{"z":0.0625,"q":1.971},{"z":0.0645,"q":2.216},{"z":0.0665,"q":2.326},{"z":0.0685,"q":2.013},{"z":0.0615,"q":2.162},{"z":0.0635,"q":2.263},{"z":0.0655,"q":2.377},
{"z":0.0705,"q":2.193},{"z":0.0725,"q":2.301},{"z":0.0745,"q":2.108},{"z":0.0765,"q":2.254},{"z":0.0785,"q":2.176},{"z":0.0715,"q":2.019},{"z":0.0735,"q":2.341},{"z":0.0755,"q":2.143},{"z":0.0775,"q":2.064},{"z":0.0795,"q":2.277},
{"z":0.0705,"q":2.243},{"z":0.0725,"q":2.126},{"z":0.0745,"q":2.324},{"z":0.0765,"q":2.033},{"z":0.0785,"q":2.161},{"z":0.0805,"q":2.183},{"z":0.0825,"q":2.288},{"z":0.0845,"q":2.101},{"z":0.0865,"q":2.241},{"z":0.0885,"q":2.166},
{"z":0.0815,"q":2.012},{"z":0.0835,"q":2.321},{"z":0.0855,"q":2.136},{"z":0.0875,"q":2.057},{"z":0.0895,"q":2.262},{"z":0.0805,"q":2.231},{"z":0.0825,"q":2.119},{"z":0.0845,"q":2.306},{"z":0.0865,"q":2.026},{"z":0.0885,"q":2.152},
{"z":0.0007,"q":2.268},{"z":0.0033,"q":2.143},{"z":0.0057,"q":2.321},{"z":0.0083,"q":2.192},{"z":0.0013,"q":2.427},{"z":0.0047,"q":2.064},{"z":0.0073,"q":2.253},{"z":0.0097,"q":2.378},{"z":0.0023,"q":2.011},{"z":0.0063,"q":2.164},
{"z":0.0087,"q":2.294},{"z":0.0037,"q":2.457},{"z":0.0017,"q":2.176},{"z":0.0053,"q":2.217},{"z":0.0077,"q":2.089},{"z":0.0093,"q":2.138},{"z":0.0027,"q":2.341},{"z":0.0067,"q":2.403},{"z":0.0043,"q":2.121},{"z":0.0003,"q":2.296},
{"z":0.0033,"q":2.381},{"z":0.0057,"q":1.952},{"z":0.0083,"q":2.263},{"z":0.0013,"q":2.154},{"z":0.0047,"q":2.487},{"z":0.0073,"q":2.033},{"z":0.0097,"q":2.207},{"z":0.0023,"q":2.226},{"z":0.0063,"q":2.339},{"z":0.0087,"q":2.098},
{"z":0.0107,"q":2.214},{"z":0.0123,"q":2.351},{"z":0.0137,"q":2.181},{"z":0.0153,"q":2.298},{"z":0.0167,"q":2.247},{"z":0.0183,"q":2.129},{"z":0.0197,"q":2.318},{"z":0.0113,"q":2.442},{"z":0.0127,"q":2.073},{"z":0.0143,"q":2.267},
{"z":0.0157,"q":2.394},{"z":0.0173,"q":2.158},{"z":0.0187,"q":2.043},{"z":0.0103,"q":2.329},{"z":0.0117,"q":2.196},{"z":0.0133,"q":2.412},{"z":0.0147,"q":2.118},{"z":0.0163,"q":2.282},{"z":0.0177,"q":2.366},{"z":0.0193,"q":2.207},
{"z":0.0107,"q":1.998},{"z":0.0123,"q":2.234},{"z":0.0137,"q":2.481},{"z":0.0153,"q":2.089},{"z":0.0167,"q":2.173},{"z":0.0183,"q":2.426},{"z":0.0197,"q":2.254},{"z":0.0113,"q":2.139},{"z":0.0127,"q":2.307},{"z":0.0143,"q":1.971},
{"z":0.0157,"q":2.221},{"z":0.0173,"q":2.337},{"z":0.0187,"q":2.104},{"z":0.0103,"q":2.462},{"z":0.0117,"q":2.276},{"z":0.0133,"q":2.052},{"z":0.0147,"q":2.361},{"z":0.0163,"q":2.147},{"z":0.0177,"q":2.008},{"z":0.0193,"q":2.384},
{"z":0.0107,"q":2.166},{"z":0.0123,"q":2.439},{"z":0.0137,"q":2.245},{"z":0.0153,"q":2.124},{"z":0.0167,"q":2.471},{"z":0.0183,"q":2.289},{"z":0.0197,"q":2.192},{"z":0.0113,"q":2.357},{"z":0.0127,"q":2.191},{"z":0.0143,"q":2.416},
{"z":0.0157,"q":2.059},{"z":0.0173,"q":2.273},{"z":0.0187,"q":2.348},{"z":0.0163,"q":2.407},{"z":0.0133,"q":2.231},
{"z":0.0207,"q":2.227},{"z":0.0223,"q":2.364},{"z":0.0237,"q":2.188},{"z":0.0253,"q":2.305},{"z":0.0267,"q":2.254},{"z":0.0283,"q":2.136},{"z":0.0297,"q":2.326},{"z":0.0213,"q":2.448},{"z":0.0227,"q":2.081},{"z":0.0243,"q":2.274},
{"z":0.0257,"q":2.399},{"z":0.0273,"q":2.164},{"z":0.0287,"q":2.051},{"z":0.0203,"q":2.336},{"z":0.0217,"q":2.203},{"z":0.0233,"q":2.419},{"z":0.0247,"q":2.126},{"z":0.0263,"q":2.289},{"z":0.0277,"q":2.373},{"z":0.0293,"q":2.214},
{"z":0.0207,"q":2.004},{"z":0.0223,"q":2.241},{"z":0.0237,"q":2.486},{"z":0.0253,"q":2.097},{"z":0.0267,"q":2.181},{"z":0.0283,"q":2.431},{"z":0.0297,"q":2.261},{"z":0.0213,"q":2.146},{"z":0.0227,"q":2.314},{"z":0.0243,"q":1.977},
{"z":0.0257,"q":2.228},{"z":0.0273,"q":2.344},{"z":0.0287,"q":2.112},{"z":0.0203,"q":2.467},{"z":0.0217,"q":2.283},{"z":0.0233,"q":2.059},{"z":0.0247,"q":2.368},{"z":0.0263,"q":2.155},{"z":0.0277,"q":2.014},{"z":0.0293,"q":2.391},
{"z":0.0207,"q":2.173},{"z":0.0223,"q":2.444},{"z":0.0237,"q":2.252},{"z":0.0253,"q":2.131},{"z":0.0267,"q":2.477},{"z":0.0283,"q":2.296},{"z":0.0297,"q":2.198},{"z":0.0213,"q":2.363},{"z":0.0227,"q":2.197},{"z":0.0243,"q":2.423},
{"z":0.0257,"q":2.066},{"z":0.0273,"q":2.281},{"z":0.0287,"q":2.355},{"z":0.0263,"q":2.413},{"z":0.0233,"q":2.238},{"z":0.0217,"q":1.941},{"z":0.0247,"q":1.931},{"z":0.0277,"q":1.958},{"z":0.0293,"q":1.936},{"z":0.0207,"q":1.924},
{"z":0.0307,"q":2.221},{"z":0.0323,"q":2.357},{"z":0.0337,"q":2.184},{"z":0.0353,"q":2.301},{"z":0.0367,"q":2.249},{"z":0.0383,"q":2.131},{"z":0.0397,"q":2.321},{"z":0.0313,"q":2.438},{"z":0.0327,"q":2.076},{"z":0.0343,"q":2.269},
{"z":0.0357,"q":2.393},{"z":0.0373,"q":2.159},{"z":0.0387,"q":2.046},{"z":0.0303,"q":2.331},{"z":0.0317,"q":2.198},{"z":0.0333,"q":2.409},{"z":0.0347,"q":2.121},{"z":0.0363,"q":2.284},{"z":0.0377,"q":2.366},{"z":0.0393,"q":2.209},
{"z":0.0307,"q":2.001},{"z":0.0323,"q":2.236},{"z":0.0337,"q":2.472},{"z":0.0353,"q":2.092},{"z":0.0367,"q":2.176},{"z":0.0383,"q":2.421},{"z":0.0397,"q":2.257},{"z":0.0313,"q":2.141},{"z":0.0327,"q":2.309},{"z":0.0343,"q":1.973},
{"z":0.0357,"q":2.224},{"z":0.0373,"q":2.339},{"z":0.0387,"q":2.107},{"z":0.0303,"q":2.458},{"z":0.0317,"q":2.278},{"z":0.0333,"q":2.054},{"z":0.0347,"q":2.363},{"z":0.0363,"q":2.151},{"z":0.0377,"q":2.009},{"z":0.0393,"q":2.386},
{"z":0.0307,"q":2.168},{"z":0.0323,"q":2.433},{"z":0.0337,"q":2.247},{"z":0.0353,"q":2.127},{"z":0.0367,"q":2.463},{"z":0.0383,"q":2.291},{"z":0.0397,"q":2.193},{"z":0.0313,"q":2.358},{"z":0.0327,"q":2.193},{"z":0.0343,"q":2.413},
{"z":0.0357,"q":2.062},{"z":0.0373,"q":2.276},{"z":0.0387,"q":2.351},{"z":0.0363,"q":2.404},{"z":0.0333,"q":2.233},{"z":0.0317,"q":1.937},{"z":0.0347,"q":1.948},{"z":0.0377,"q":1.929},
{"z":0.0407,"q":2.209},{"z":0.0423,"q":2.343},{"z":0.0437,"q":2.171},{"z":0.0453,"q":2.289},{"z":0.0467,"q":2.236},{"z":0.0483,"q":2.118},{"z":0.0497,"q":2.308},{"z":0.0413,"q":2.421},{"z":0.0427,"q":2.066},{"z":0.0443,"q":2.257},
{"z":0.0457,"q":2.378},{"z":0.0473,"q":2.148},{"z":0.0487,"q":2.037},{"z":0.0403,"q":2.318},{"z":0.0417,"q":2.186},{"z":0.0433,"q":2.392},{"z":0.0447,"q":2.111},{"z":0.0463,"q":2.271},{"z":0.0477,"q":2.351},{"z":0.0493,"q":2.198},
{"z":0.0407,"q":1.991},{"z":0.0423,"q":2.224},{"z":0.0437,"q":2.453},{"z":0.0453,"q":2.083},{"z":0.0467,"q":2.164},{"z":0.0483,"q":2.402},{"z":0.0497,"q":2.243},{"z":0.0413,"q":2.131},{"z":0.0427,"q":2.296},{"z":0.0443,"q":1.966},
{"z":0.0457,"q":2.212},{"z":0.0473,"q":2.326},{"z":0.0487,"q":2.097},{"z":0.0403,"q":2.441},{"z":0.0417,"q":2.264},{"z":0.0433,"q":2.045},{"z":0.0447,"q":2.347},{"z":0.0463,"q":2.141},{"z":0.0477,"q":2.002},{"z":0.0493,"q":2.371},
{"z":0.0407,"q":2.158},{"z":0.0423,"q":2.416},{"z":0.0437,"q":2.234},{"z":0.0453,"q":2.117},{"z":0.0467,"q":2.442},{"z":0.0483,"q":2.278},{"z":0.0497,"q":2.183},{"z":0.0413,"q":2.343},{"z":0.0427,"q":2.181},{"z":0.0443,"q":2.398},
{"z":0.0507,"q":2.198},{"z":0.0523,"q":2.328},{"z":0.0537,"q":2.161},{"z":0.0553,"q":2.276},{"z":0.0567,"q":2.224},{"z":0.0583,"q":2.109},{"z":0.0597,"q":2.293},{"z":0.0513,"q":2.403},{"z":0.0527,"q":2.057},{"z":0.0543,"q":2.244},
{"z":0.0557,"q":2.361},{"z":0.0573,"q":2.139},{"z":0.0587,"q":2.029},{"z":0.0503,"q":2.304},{"z":0.0517,"q":2.176},{"z":0.0533,"q":2.376},{"z":0.0547,"q":2.102},{"z":0.0563,"q":2.259},{"z":0.0577,"q":2.336},{"z":0.0593,"q":2.187},
{"z":0.0507,"q":1.984},{"z":0.0523,"q":2.213},{"z":0.0537,"q":2.428},{"z":0.0553,"q":2.074},{"z":0.0567,"q":2.154},{"z":0.0583,"q":2.383},{"z":0.0597,"q":2.231},{"z":0.0513,"q":2.121},{"z":0.0527,"q":2.283},{"z":0.0543,"q":1.961},
{"z":0.0607,"q":2.201},{"z":0.0617,"q":2.311},{"z":0.0627,"q":2.087},{"z":0.0637,"q":2.246},{"z":0.0647,"q":2.167},{"z":0.0603,"q":2.352},{"z":0.0613,"q":2.131},{"z":0.0623,"q":2.271},{"z":0.0633,"q":2.036},{"z":0.0643,"q":2.213},
{"z":0.0607,"q":2.398},{"z":0.0617,"q":2.181},{"z":0.0627,"q":2.334},{"z":0.0637,"q":2.112},{"z":0.0647,"q":2.289}
]
},
"layer":[
{
 "data":{"name":"all"},
 "mark":{"type":"point","size":34,"strokeWidth":1,"opacity":1,"clip":true},
 "encoding":{
  "x":{"field":"z","type":"quantitative","scale":{"domain":[0,0.3],"nice":false,"zero":false},
   "axis":{"orient":"bottom","values":[0,0.05,0.1,0.15,0.2,0.25,0.3],"format":".2f","tickSize":-10,"labelPadding":29,"labelFont":"DejaVu Sans","labelFontSize":21,"title":"redshift","titleFont":"DejaVu Serif","titleFontStyle":"italic","titleFontWeight":"normal","titleFontSize":23,"titleX":272.5,"titleY":68,"titleBaseline":"alphabetic"}},
  "y":{"field":"q","type":"quantitative","scale":{"domain":[1.2,2.5],"nice":false,"zero":false},
   "axis":{"orient":"left","values":[1.2,1.4,1.6,1.8,2.0,2.2,2.4],"format":".1f","tickSize":-10,"labelPadding":22,"labelFont":"DejaVu Serif","labelFontStyle":"italic","labelFontSize":21,"title":"q","titleFont":"DejaVu Serif","titleFontStyle":"italic","titleFontWeight":"normal","titleFontSize":26,"titleX":-72,"titleY":272,"titleAngle":270,"titleBaseline":"alphabetic"}},
  "shape":{"datum":"all sources","type":"nominal","scale":{"domain":["all sources","SFG","Composite Gal.","Seyferts","LINERs"],"range":["M-1,0L1,0M0,-1L0,1","circle","M-1,0L1,0M0,-1L0,1M-0.8,-0.8L0.8,0.8M-0.8,0.8L0.8,-0.8","M-1,0L0,-1L1,0L0,1Z","M-1,0.87L0,-0.87L1,0.87Z"]},"legend":{"title":null}},
  "stroke":{"datum":"all sources","type":"nominal","scale":{"domain":["all sources","SFG","Composite Gal.","Seyferts","LINERs"],"range":["#b5b5b5","#ffa500","#0000ff","#ff00ff","#00ff00"]},"legend":{"title":null}},
  "fill":{"datum":"all sources","type":"nominal","scale":{"domain":["all sources","SFG","Composite Gal.","Seyferts","LINERs"],"range":["transparent","#ffa500","transparent","transparent","transparent"]},"legend":{"title":null}}
 }
},
{
 "data":{"name":"bins"},
 "transform":[{"filter":"datum.type === 'SFG'"}],
 "mark":{"type":"point","size":420,"strokeWidth":1,"opacity":1},
 "encoding":{
  "x":{"field":"z","type":"quantitative","axis":{"orient":"top","values":[0,0.05,0.1,0.15,0.2,0.25,0.3],"labels":false,"tickSize":-10,"title":null}},
  "y":{"field":"q","type":"quantitative","axis":{"orient":"right","values":[1.2,1.4,1.6,1.8,2.0,2.2,2.4],"labels":false,"tickSize":-10,"title":null}},
  "shape":{"field":"type","type":"nominal","legend":{"title":null}},
  "stroke":{"field":"type","type":"nominal","legend":{"title":null}},
  "fill":{"field":"type","type":"nominal","legend":{"title":null}}
 }
},
{
 "data":{"name":"bins"},
 "mark":{"type":"rule","strokeWidth":2},
 "encoding":{
  "x":{"field":"z","type":"quantitative","axis":{"orient":"bottom","values":[0.01,0.02,0.03,0.04,0.06,0.07,0.08,0.09,0.11,0.12,0.13,0.14,0.16,0.17,0.18,0.19,0.21,0.22,0.23,0.24,0.26,0.27,0.28,0.29],"labels":false,"tickSize":-5,"title":null}},
  "y":{"field":"lo","type":"quantitative","axis":{"orient":"left","values":[1.25,1.3,1.35,1.45,1.5,1.55,1.65,1.7,1.75,1.85,1.9,1.95,2.05,2.1,2.15,2.25,2.3,2.35,2.45],"labels":false,"tickSize":-5,"title":null}},
  "y2":{"field":"hi"},
  "color":{"field":"type","type":"nominal","scale":{"domain":["SFG","Composite Gal.","Seyferts","LINERs"],"range":["#ffa500","#0000ff","#ff00ff","#00ff00"]},"legend":null}
 }
},
{
 "data":{"name":"bins"},
 "mark":{"type":"tick","orient":"horizontal","size":8,"thickness":2},
 "encoding":{
  "x":{"field":"z","type":"quantitative","axis":{"orient":"top","values":[0.01,0.02,0.03,0.04,0.06,0.07,0.08,0.09,0.11,0.12,0.13,0.14,0.16,0.17,0.18,0.19,0.21,0.22,0.23,0.24,0.26,0.27,0.28,0.29],"labels":false,"tickSize":-5,"title":null}},
  "y":{"field":"lo","type":"quantitative","axis":{"orient":"right","values":[1.25,1.3,1.35,1.45,1.5,1.55,1.65,1.7,1.75,1.85,1.9,1.95,2.05,2.1,2.15,2.25,2.3,2.35,2.45],"labels":false,"tickSize":-5,"title":null}},
  "color":{"field":"type","type":"nominal","legend":null}
 }
},
{
 "data":{"name":"bins"},
 "mark":{"type":"tick","orient":"horizontal","size":8,"thickness":2},
 "encoding":{
  "x":{"field":"z","type":"quantitative","axis":null},
  "y":{"field":"hi","type":"quantitative","axis":null},
  "color":{"field":"type","type":"nominal","legend":null}
 }
},
{
 "data":{"name":"bins"},
 "mark":{"type":"line","strokeWidth":1.6},
 "encoding":{
  "x":{"field":"z","type":"quantitative","axis":null},
  "y":{"field":"q","type":"quantitative","axis":null},
  "color":{"field":"type","type":"nominal","legend":null}
 }
},
{
 "data":{"name":"bins"},
 "transform":[{"filter":"datum.type !== 'SFG'"}],
 "mark":{"type":"point","size":484,"strokeWidth":2,"opacity":1},
 "encoding":{
  "x":{"field":"z","type":"quantitative","axis":null},
  "y":{"field":"q","type":"quantitative","axis":null},
  "shape":{"field":"type","type":"nominal","legend":{"title":null}},
  "stroke":{"field":"type","type":"nominal","legend":{"title":null}},
  "fill":{"field":"type","type":"nominal","legend":{"title":null}}
 }
}
],
"resolve":{"axis":{"x":"independent","y":"independent"}}
}
